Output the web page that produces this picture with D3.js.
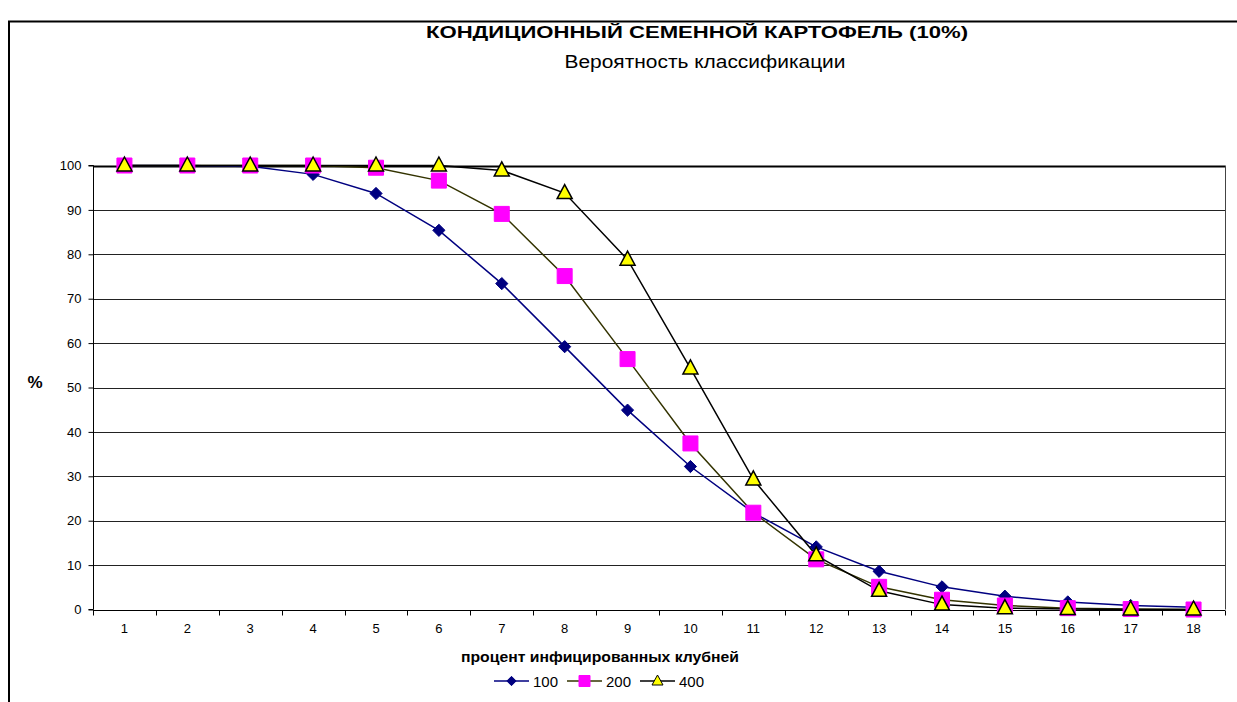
<!DOCTYPE html>
<html><head><meta charset="utf-8">
<script src="https://cdn.jsdelivr.net/npm/d3@7"></script>
<style>
html,body{margin:0;padding:0;background:#fff;}
svg{display:block;font-family:"Liberation Sans",Arial,sans-serif;}
</style></head>
<body>
<svg id="c" width="1237" height="702"></svg>
<script>
const categories = [1,2,3,4,5,6,7,8,9,10,11,12,13,14,15,16,17,18];
const series100 = [100,100,99.8,98,93.7,85.4,73.4,59.2,44.9,32.2,21.8,14.1,8.6,5.1,3.0,1.7,0.9,0.5];
const series200 = [100,100,100,100,99.5,96.6,89.1,75.1,56.4,37.4,21.8,11.3,5.1,2.2,0.9,0.3,0.1,0.0];
const series400 = [100,100,100,100,100,100,98.9,93.8,78.8,54.3,29.3,12.2,4.2,1.1,0.3,0.1,0.0,0.0];
const seriesNames = ["100","200","400"];
const yTicks = [0,10,20,30,40,50,60,70,80,90,100];
const title = "КОНДИЦИОННЫЙ СЕМЕННОЙ КАРТОФЕЛЬ (10%)";
const subtitle = "Вероятность классификации";
const xTitle = "процент инфицированных клубней";
const yTitle = "%";

const svg = d3.select("#c");
const L = 93, R = 1225, T = 165.5, B = 609.5;

// outer chart border
svg.append("path").attr("d","M9,702 V21.5 H1237").attr("fill","none").attr("stroke","#000").attr("stroke-width",2);

const x = d3.scaleBand().domain(categories).range([L,R]);
const y = d3.scaleLinear().domain([0,100]).range([B,T]);

// gridlines
svg.append("g").selectAll("line").data(yTicks.filter(d=>d>0)).join("line")
  .attr("x1",L).attr("x2",R).attr("y1",d=>Math.round(y(d))+0.5).attr("y2",d=>Math.round(y(d))+0.5)
  .attr("stroke",(d)=>d===100?"#000":"#222").attr("stroke-width",d=>d===100?2:1);
// right border
svg.append("line").attr("x1",R+0.5).attr("x2",R+0.5).attr("y1",T).attr("y2",B).attr("stroke","#444").attr("stroke-width",1);

// axes
const yAxis = d3.axisLeft(y).tickValues(yTicks).tickSize(5).tickPadding(7);
const gy = svg.append("g").attr("transform",`translate(${L+0.5},0)`).call(yAxis);
gy.selectAll("text").attr("font-size",13).attr("fill","#000").attr("font-family","Liberation Sans, Arial, sans-serif");
gy.selectAll("line,path").attr("stroke","#000");
gy.select(".domain").attr("d",`M-5,${T}H0V${B}H-5`);

const xAxis = d3.axisBottom(x).tickSize(0).tickPadding(13);
const gx = svg.append("g").attr("transform",`translate(0,${Math.round(B)+0.5})`).call(xAxis);
gx.selectAll("text").attr("font-size",13).attr("fill","#000").attr("font-family","Liberation Sans, Arial, sans-serif");
gx.select(".domain").attr("d",`M${L},0H${R}`).attr("stroke","#000");
// ticks between categories
gx.append("g").selectAll("line").data(d3.range(categories.length+1)).join("line")
  .attr("x1",i=>Math.round(L+i*x.step())+0.5).attr("x2",i=>Math.round(L+i*x.step())+0.5)
  .attr("y1",0).attr("y2",5).attr("stroke","#000");

// series
const data = [
  {name:seriesNames[0], vals:series100, line:"#000080", marker:"diamond", fill:"#000080", stroke:"#000080"},
  {name:seriesNames[1], vals:series200, line:"#333300", marker:"square", fill:"#FF00FF", stroke:"#FF00FF"},
  {name:seriesNames[2], vals:series400, line:"#000000", marker:"triangle", fill:"#FFFF00", stroke:"#000"}
];
const cx = (i)=>x(categories[i])+x.bandwidth()/2;
const lineGen = d3.line().x((d,i)=>cx(i)).y(d=>y(d));

function markerPath(type){
  if(type==="diamond") return d3.symbol().type(d3.symbolDiamond2).size(95)();
  if(type==="square") return "M-7.5,-7.5H7.5V7.5H-7.5Z";
  return "M0,-8.5L7.5,5.5H-7.5Z";
}

data.forEach(s=>{
  svg.append("path").attr("d",lineGen(s.vals)).attr("fill","none").attr("stroke",s.line).attr("stroke-width",1.5);
});
data.forEach(s=>{
  svg.append("g").selectAll("path").data(s.vals).join("path")
    .attr("transform",(d,i)=>`translate(${cx(i)},${y(d)})`)
    .attr("d",markerPath(s.marker))
    .attr("fill",s.fill).attr("stroke",s.stroke).attr("stroke-width",s.marker==="triangle"?1.5:1);
});

// titles
svg.append("text").attr("x",697).attr("y",38).attr("text-anchor","middle")
  .attr("font-size",17).attr("font-weight","bold")
  .attr("textLength",542).attr("lengthAdjust","spacingAndGlyphs").text(title);
svg.append("text").attr("x",705).attr("y",68).attr("text-anchor","middle")
  .attr("font-size",17.5)
  .attr("textLength",281).attr("lengthAdjust","spacingAndGlyphs").text(subtitle);
svg.append("text").attr("x",600).attr("y",662).attr("text-anchor","middle")
  .attr("font-size",14).attr("font-weight","bold")
  .attr("textLength",278).attr("lengthAdjust","spacingAndGlyphs").text(xTitle);
svg.append("text").attr("x",35).attr("y",388).attr("text-anchor","middle")
  .attr("font-size",17).attr("font-weight","bold").text(yTitle);

// legend
const legX = [494, 567, 640];
const lg = svg.append("g");
data.forEach((s,i)=>{
  const g = lg.append("g").attr("transform",`translate(${legX[i]},681)`);
  g.append("line").attr("x1",0).attr("x2",35).attr("stroke",s.line).attr("stroke-width",1.5);
  const m = g.append("path").attr("transform","translate(17.5,0)")
    .attr("fill",s.fill).attr("stroke",s.stroke).attr("stroke-width",1);
  if(s.marker==="diamond") m.attr("d",d3.symbol().type(d3.symbolDiamond2).size(55)());
  else if(s.marker==="square") m.attr("d","M-5.5,-5.5H5.5V5.5H-5.5Z");
  else m.attr("d","M0,-6L5.5,4H-5.5Z");
  g.append("text").attr("x",39).attr("y",5.5).attr("font-size",15).text(s.name);
});
</script>
</body></html>
